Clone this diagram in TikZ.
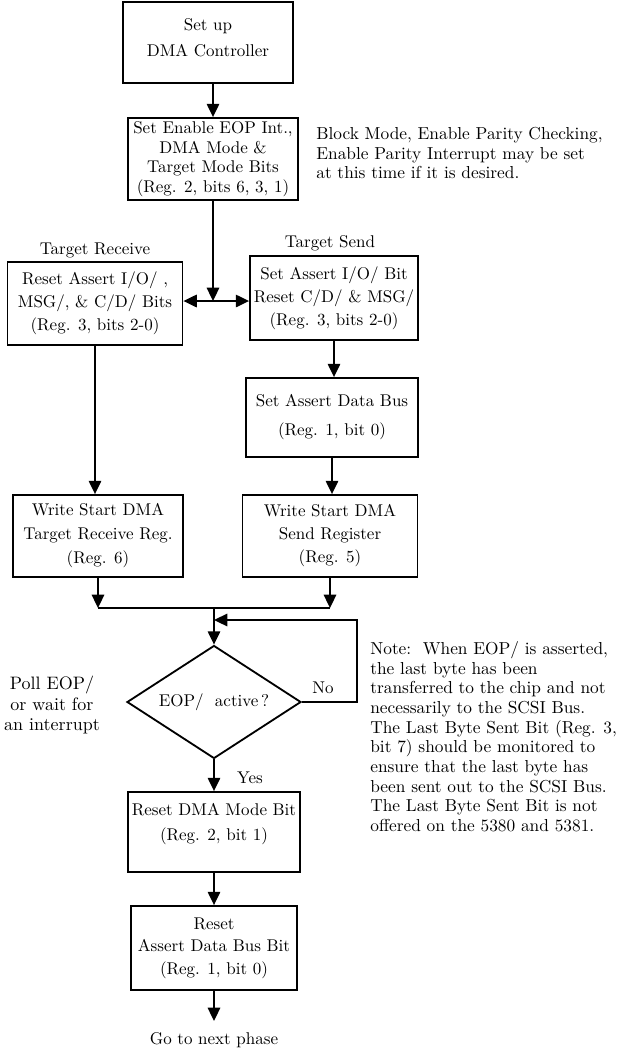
\documentclass[tikz,border=0pt]{standalone}
\usetikzlibrary{arrows.meta,shapes.geometric}

\begin{document}
\begin{tikzpicture}[x=0.6pt,y=-0.6pt,every text node part/.style={align=center},
  font=\fontsize{10.2}{11.8}\selectfont,
  regbox/.style 2 args={draw=black,line width=1.1pt,minimum width=#1*0.6pt,minimum height=#2*0.6pt},
  testbox/.style={draw=black,line width=1.1pt,shape=diamond,aspect=1.54,minimum width=104.4pt,minimum height=67.8pt},
  link/.style={draw=black,line width=1pt,-{Triangle[length=8pt,width=7.5pt]}},
  plain/.style={draw=black,line width=1pt},
  remark/.style={anchor=north west,font=\fontsize{10.4}{11.8}\selectfont,every text node part/.style={align=left}}]
\tikzstyle{every node}+=[inner sep=0pt]
\useasboundingbox (0,0) rectangle (621,1052);
\node [regbox={170}{81}] (setup) at (208,42.5) {Set up\\[3.8pt]DMA Controller\\[-6pt]\mbox{}};
\node [regbox={170}{82}] (enable) at (213,159) {Set Enable EOP Int.,\\DMA Mode \&\\Target Mode Bits\\(Reg. 2, bits 6, 3, 1)};
\node [remark] (blocknote) at (316,127) {Block Mode, Enable Parity Checking,\\Enable Parity Interrupt may be set\\at this time if it is desired.};
\node (recvlabel) at (95,250) {Target Receive};
\node (sendlabel) at (330,243) {Target Send};
\node [regbox={175}{83}] (recv) at (95,303.5) {Reset Assert I/O/ ,\\[2pt]MSG/, \& C/D/ Bits\\[2pt](Reg. 3, bits 2-0)};
\node [regbox={168}{84}] (send) at (334,298) {Set Assert I/O/ Bit\\[2pt]Reset C/D/ \& MSG/\\[2pt](Reg. 3, bits 2-0)};
\node [regbox={172}{79}] (busset) at (332,417.5) {Set Assert Data Bus\\[5.6pt](Reg. 1, bit 0)};
\node [regbox={170}{82}] (recvdma) at (98,536) {Write Start DMA\\[2.6pt]Target Receive Reg.\\[2.6pt](Reg. 6)};
\node [regbox={175}{82}] (senddma) at (330,536) {Write Start DMA\\[2pt]Send Register\\[2pt](Reg. 5)};
\node [testbox] (test) at (214,702) {EOP/\ \ active\,?};
\node [font=\fontsize{10.8}{12.4}\selectfont] (poll) at (52,705) {Poll EOP/\\or wait for\\an interrupt};
\node [remark] (eopnote) at (370,641) {Note:\ \ When EOP/ is asserted,\\the last byte has been\\transferred to the chip and not\\necessarily to the SCSI Bus.\\The Last Byte Sent Bit (Reg. 3,\\bit 7) should be monitored to\\ensure that the last byte has\\been sent out to the SCSI Bus.\\The Last Byte Sent Bit is not\\offered on the 5380 and 5381.};
\node (no) at (323,688) {No};
\node (yes) at (250,778) {Yes};
\node [regbox={172}{80}] (resetdma) at (214,832) {Reset DMA Mode Bit\\[3pt](Reg. 2, bit 1)\\[0pt]\mbox{}};
\node [regbox={166}{84}] (resetbus) at (214,948) {Reset\\[1.7pt]Assert Data Bus Bit\\[1.7pt](Reg. 1, bit 0)};
\node (gonext) at (214,1040) {Go to next phase};
\coordinate (split) at (213,301);
\coordinate (merge) at (214,608);
\coordinate (loop) at (357,620);
\coordinate (next) at (214,1021);
\draw [link] (setup.south -| enable.north) -- (enable.north);
\draw [link] (enable.south) -- (split);
\draw [link] (split) -- (split -| recv.east);
\draw [link] (split) -- (split -| send.west);
\draw [link] (recv.south) -- (recv.south |- recvdma.north);
\draw [link] (send.south) -- (send.south |- busset.north);
\draw [link] (busset.south) -- (busset.south |- senddma.north);
\draw [link] (recvdma.south) -- (recvdma.south |- merge);
\draw [link] (senddma.south) -- (senddma.south |- merge);
\draw [plain] (recvdma.south |- merge) -- (senddma.south |- merge);
\draw [link] (merge) -- (test.north);
\draw [link] (test.east) -| (loop) -- (loop -| test.north);
\draw [link] (test.south) -- (resetdma.north);
\draw [link] (resetdma.south) -- (resetbus.north);
\draw [link] (resetbus.south) -- (next);
\end{tikzpicture}
\end{document}
